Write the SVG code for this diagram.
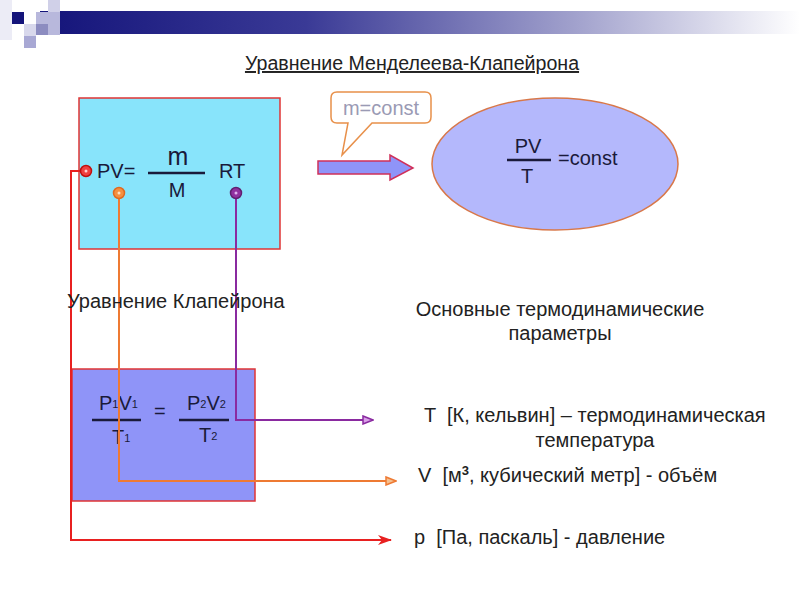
<svg xmlns="http://www.w3.org/2000/svg" width="800" height="600" viewBox="0 0 800 600">
<defs>
<linearGradient id="bar" x1="0" y1="0" x2="1" y2="0">
<stop offset="0" stop-color="#14147a"/>
<stop offset="0.35" stop-color="#3a3a96"/>
<stop offset="0.7" stop-color="#a0a0cc"/>
<stop offset="1" stop-color="#ffffff"/>
</linearGradient>
<marker id="mPur" viewBox="0 0 12 10" refX="11" refY="5" markerWidth="12" markerHeight="10" markerUnits="userSpaceOnUse" orient="auto">
<path d="M1,1 L11,5 L1,9 Z" fill="#d9a0e8" stroke="#8a2aa0" stroke-width="1.5"/>
</marker>
<marker id="mOr" viewBox="0 0 12 10" refX="11" refY="5" markerWidth="12" markerHeight="10" markerUnits="userSpaceOnUse" orient="auto">
<path d="M1,1 L11,5 L1,9 Z" fill="#f5c090" stroke="#ee7a33" stroke-width="1.5"/>
</marker>
<marker id="mRed" viewBox="0 0 14 10" refX="13" refY="5" markerWidth="14" markerHeight="10" markerUnits="userSpaceOnUse" orient="auto">
<path d="M0,0 L14,5 L0,10 L4,5 Z" fill="#e82020"/>
</marker>
</defs>
<style>
text{font-family:"Liberation Sans",Arial,sans-serif;fill:#222;font-size:20px;}
.f{fill:#1a1a3a;}
.sub{font-size:11px;}
.sup{font-size:13px;font-weight:bold;}
.frac{stroke:#1a1a3a;stroke-width:2.5;}
.dot{stroke-width:1.5;}
.conn{fill:none;stroke-width:2;}
</style>
<g id="banner">
<rect x="40" y="11" width="760" height="23" fill="url(#bar)"/>
<rect x="12" y="12" width="12" height="12" fill="#14147a"/>
<rect x="36" y="12" width="24" height="23" fill="#b8b8dc"/>
<rect x="48" y="0" width="12" height="12" fill="#d0d0e8"/>
<rect x="36" y="24" width="12" height="11" fill="#8c8cc0"/>
<rect x="24" y="24" width="12" height="12" fill="#d8d8ec"/>
<rect x="24" y="36" width="12" height="12" fill="#a8a8d4"/>
<rect x="0" y="0" width="12" height="40" fill="#ececf6"/>
</g>
<text id="title" x="412" y="70" text-anchor="middle" style="font-size:19.6px" text-decoration="underline" fill="#333">Уравнение Менделеева-Клапейрона</text>
<g id="mendeleev">
<rect x="79" y="98" width="201" height="151" fill="#88e4fb" stroke="#e03535" stroke-width="1.5"/>
<text class="f" x="97" y="178">PV=</text>
<text class="f" x="178" y="165" text-anchor="middle" style="font-size:25px">m</text>
<line class="frac" x1="148" y1="173" x2="205" y2="173"/>
<text class="f" x="177" y="197" text-anchor="middle">M</text>
<text class="f" x="219" y="178">RT</text>
</g>
<g id="clapeyron">
<rect x="72" y="369" width="183" height="132" fill="#8f94f8" stroke="#e03535" stroke-width="1.5"/>
<text class="f" x="99" y="410">P<tspan class="sub" dy="-2">1</tspan><tspan dy="2">V</tspan><tspan class="sub" dy="-2">1</tspan></text>
<line class="frac" x1="92" y1="420" x2="141" y2="420"/>
<text class="f" x="112" y="444">T<tspan class="sub" dy="-2">1</tspan></text>
<text class="f" x="154" y="418">=</text>
<text class="f" x="187" y="410">P<tspan class="sub" dy="-2">2</tspan><tspan dy="2">V</tspan><tspan class="sub" dy="-2">2</tspan></text>
<line class="frac" x1="179" y1="420" x2="229" y2="420"/>
<text class="f" x="199" y="442">T<tspan class="sub" dy="-2">2</tspan></text>
</g>
<g id="connectors">
<polyline class="conn" points="86,171 71,171 71,540 391,540" stroke="#e82020" marker-end="url(#mRed)"/>
<polyline class="conn" points="119,193 119,481 396,481" stroke="#ee7a33" marker-end="url(#mOr)"/>
<polyline class="conn" points="236,193 236,420 373,420" stroke="#8a2aa0" marker-end="url(#mPur)"/>
</g>
<g id="dots">
<circle class="dot" cx="86" cy="171" r="5.5" fill="#f04040" stroke="#c01010"/>
<circle cx="86" cy="171" r="1.5" fill="#ffd0d0"/>
<circle class="dot" cx="119" cy="193" r="5.5" fill="#f59040" stroke="#e06a20"/>
<circle cx="119" cy="193" r="1.5" fill="#ffe0c0"/>
<circle class="dot" cx="236" cy="193" r="5.5" fill="#9030a0" stroke="#602070"/>
<circle cx="236" cy="193" r="1.5" fill="#e0b0f0"/>
</g>
<g id="bigArrow">
<path d="M318,161 L390,161 L390,155 L413,168 L390,180 L390,174 L318,174 Z" fill="#8f94f8" stroke="#d0305a" stroke-width="1.5"/>
</g>
<g id="callout">
<path d="M337,92 L425,92 Q431,92 431,98 L431,117 Q431,123 425,123 L372,123 L342,155 L348,123 L337,123 Q331,123 331,117 L331,98 Q331,92 337,92 Z" fill="#fff" stroke="#e8904a" stroke-width="1.5"/>
<text x="381" y="115" text-anchor="middle" style="fill:#9a9ab4">m=const</text>
</g>
<g id="ellipse">
<ellipse cx="555" cy="164" rx="123" ry="66" fill="#b4b8fc" stroke="#d8784a" stroke-width="1.5"/>
<text class="f" x="528" y="153" text-anchor="middle">PV</text>
<line class="frac" x1="507" y1="160" x2="551" y2="160"/>
<text class="f" x="527" y="183" text-anchor="middle">T</text>
<text class="f" x="558" y="165">=const</text>
</g>
<text x="67" y="308">Уравнение Клапейрона</text>
<text x="560" y="316" text-anchor="middle">Основные термодинамические</text>
<text x="560" y="340" text-anchor="middle">параметры</text>
<text x="424" y="422" xml:space="preserve">T  [К, кельвин] – термодинамическая</text>
<text x="595" y="447" text-anchor="middle">температура</text>
<text x="418" y="482" xml:space="preserve">V  [м<tspan class="sup" dy="-7">3</tspan><tspan dy="7">, кубический метр] - объём</tspan></text>
<text x="414" y="544" xml:space="preserve">p  [Па, паскаль] - давление</text>
</svg>
